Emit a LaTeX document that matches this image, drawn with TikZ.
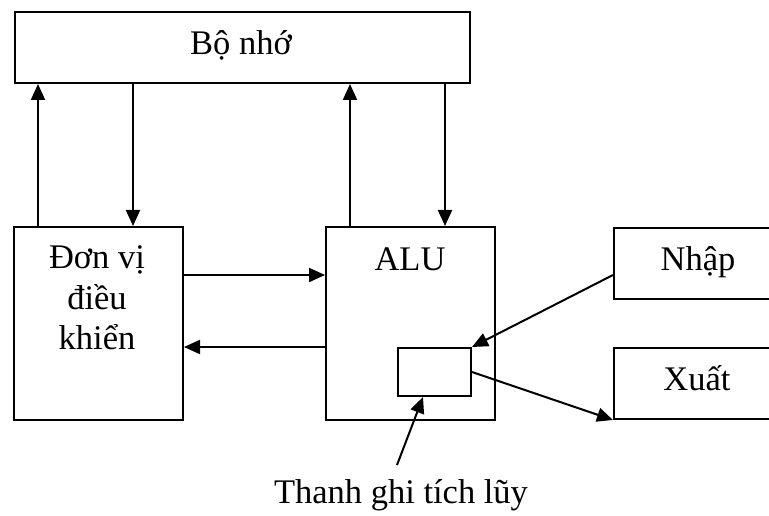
\documentclass[tikz,border=0pt]{standalone}
\usepackage{fontspec}
\setmainfont{Liberation Serif}
\usetikzlibrary{arrows.meta}
\begin{document}
\begin{tikzpicture}[x=1pt,y=-1pt,
  box/.style={draw, line width=2pt, inner sep=0pt, anchor=north west},
  lbl/.style={font=\fontsize{34.5}{41}\selectfont, inner sep=0pt, anchor=base},
  arr/.style={line width=2pt, -{Triangle[length=16pt,width=14pt]}}]
\useasboundingbox (0,0) rectangle (769,516);
% boxes
\node[box, minimum width=455pt, minimum height=71pt] (mem) at (14,11) {};
\node[box, minimum width=169pt, minimum height=193pt] (ctrl) at (13,226) {};
\node[box, minimum width=169pt, minimum height=193pt] (alu) at (325,226) {};
\node[box, minimum width=73pt, minimum height=48pt] (reg) at (397,347) {};
\begin{scope}
\clip (0,0) rectangle (769,516);
\node[box, minimum width=172pt, minimum height=71pt] (inp) at (613,227) {};
\node[box, minimum width=172pt, minimum height=71pt] (out) at (613,347) {};
\end{scope}
% texts
\node[lbl] (memt) at (241,55) {Bộ nhớ};
\node[lbl] (ctrlt1) at (97,268) {Đơn vị};
\node[lbl] (ctrlt2) at (97,309) {điều};
\node[lbl] (ctrlt3) at (97,349) {khiển};
\node[lbl] (alut) at (410,270) {ALU};
\node[lbl] (inpt) at (698,270) {Nhập};
\node[lbl] (outt) at (697,390) {Xuất};
\node[lbl] (regt) at (401,503) {Thanh ghi tích lũy};
% helper coordinates
\coordinate (c1) at (38,0);
\coordinate (c2) at (133,0);
\coordinate (c3) at (350,0);
\coordinate (c4) at (445,0);
\coordinate (r1) at (0,275);
\coordinate (t) at (397,465);
\coordinate (h) at (423,0);
% connectors
\draw[arr] (ctrl.north -| c1) -- (mem.south -| c1);
\draw[arr] (mem.south -| c2) -- (ctrl.north -| c2);
\draw[arr] (alu.north -| c3) -- (mem.south -| c3);
\draw[arr] (mem.south -| c4) -- (alu.north -| c4);
\draw[arr] (ctrl.east |- r1) -- (alu.west |- r1);
\draw[arr] (alu.west |- reg.north) -- (ctrl.east |- reg.north);
\draw[arr] (inp.west |- r1) -- (reg.north east);
\draw[arr] (reg.east) -- (out.south west);
\draw[arr] (t) -- (reg.south -| h);
\end{tikzpicture}
\end{document}
